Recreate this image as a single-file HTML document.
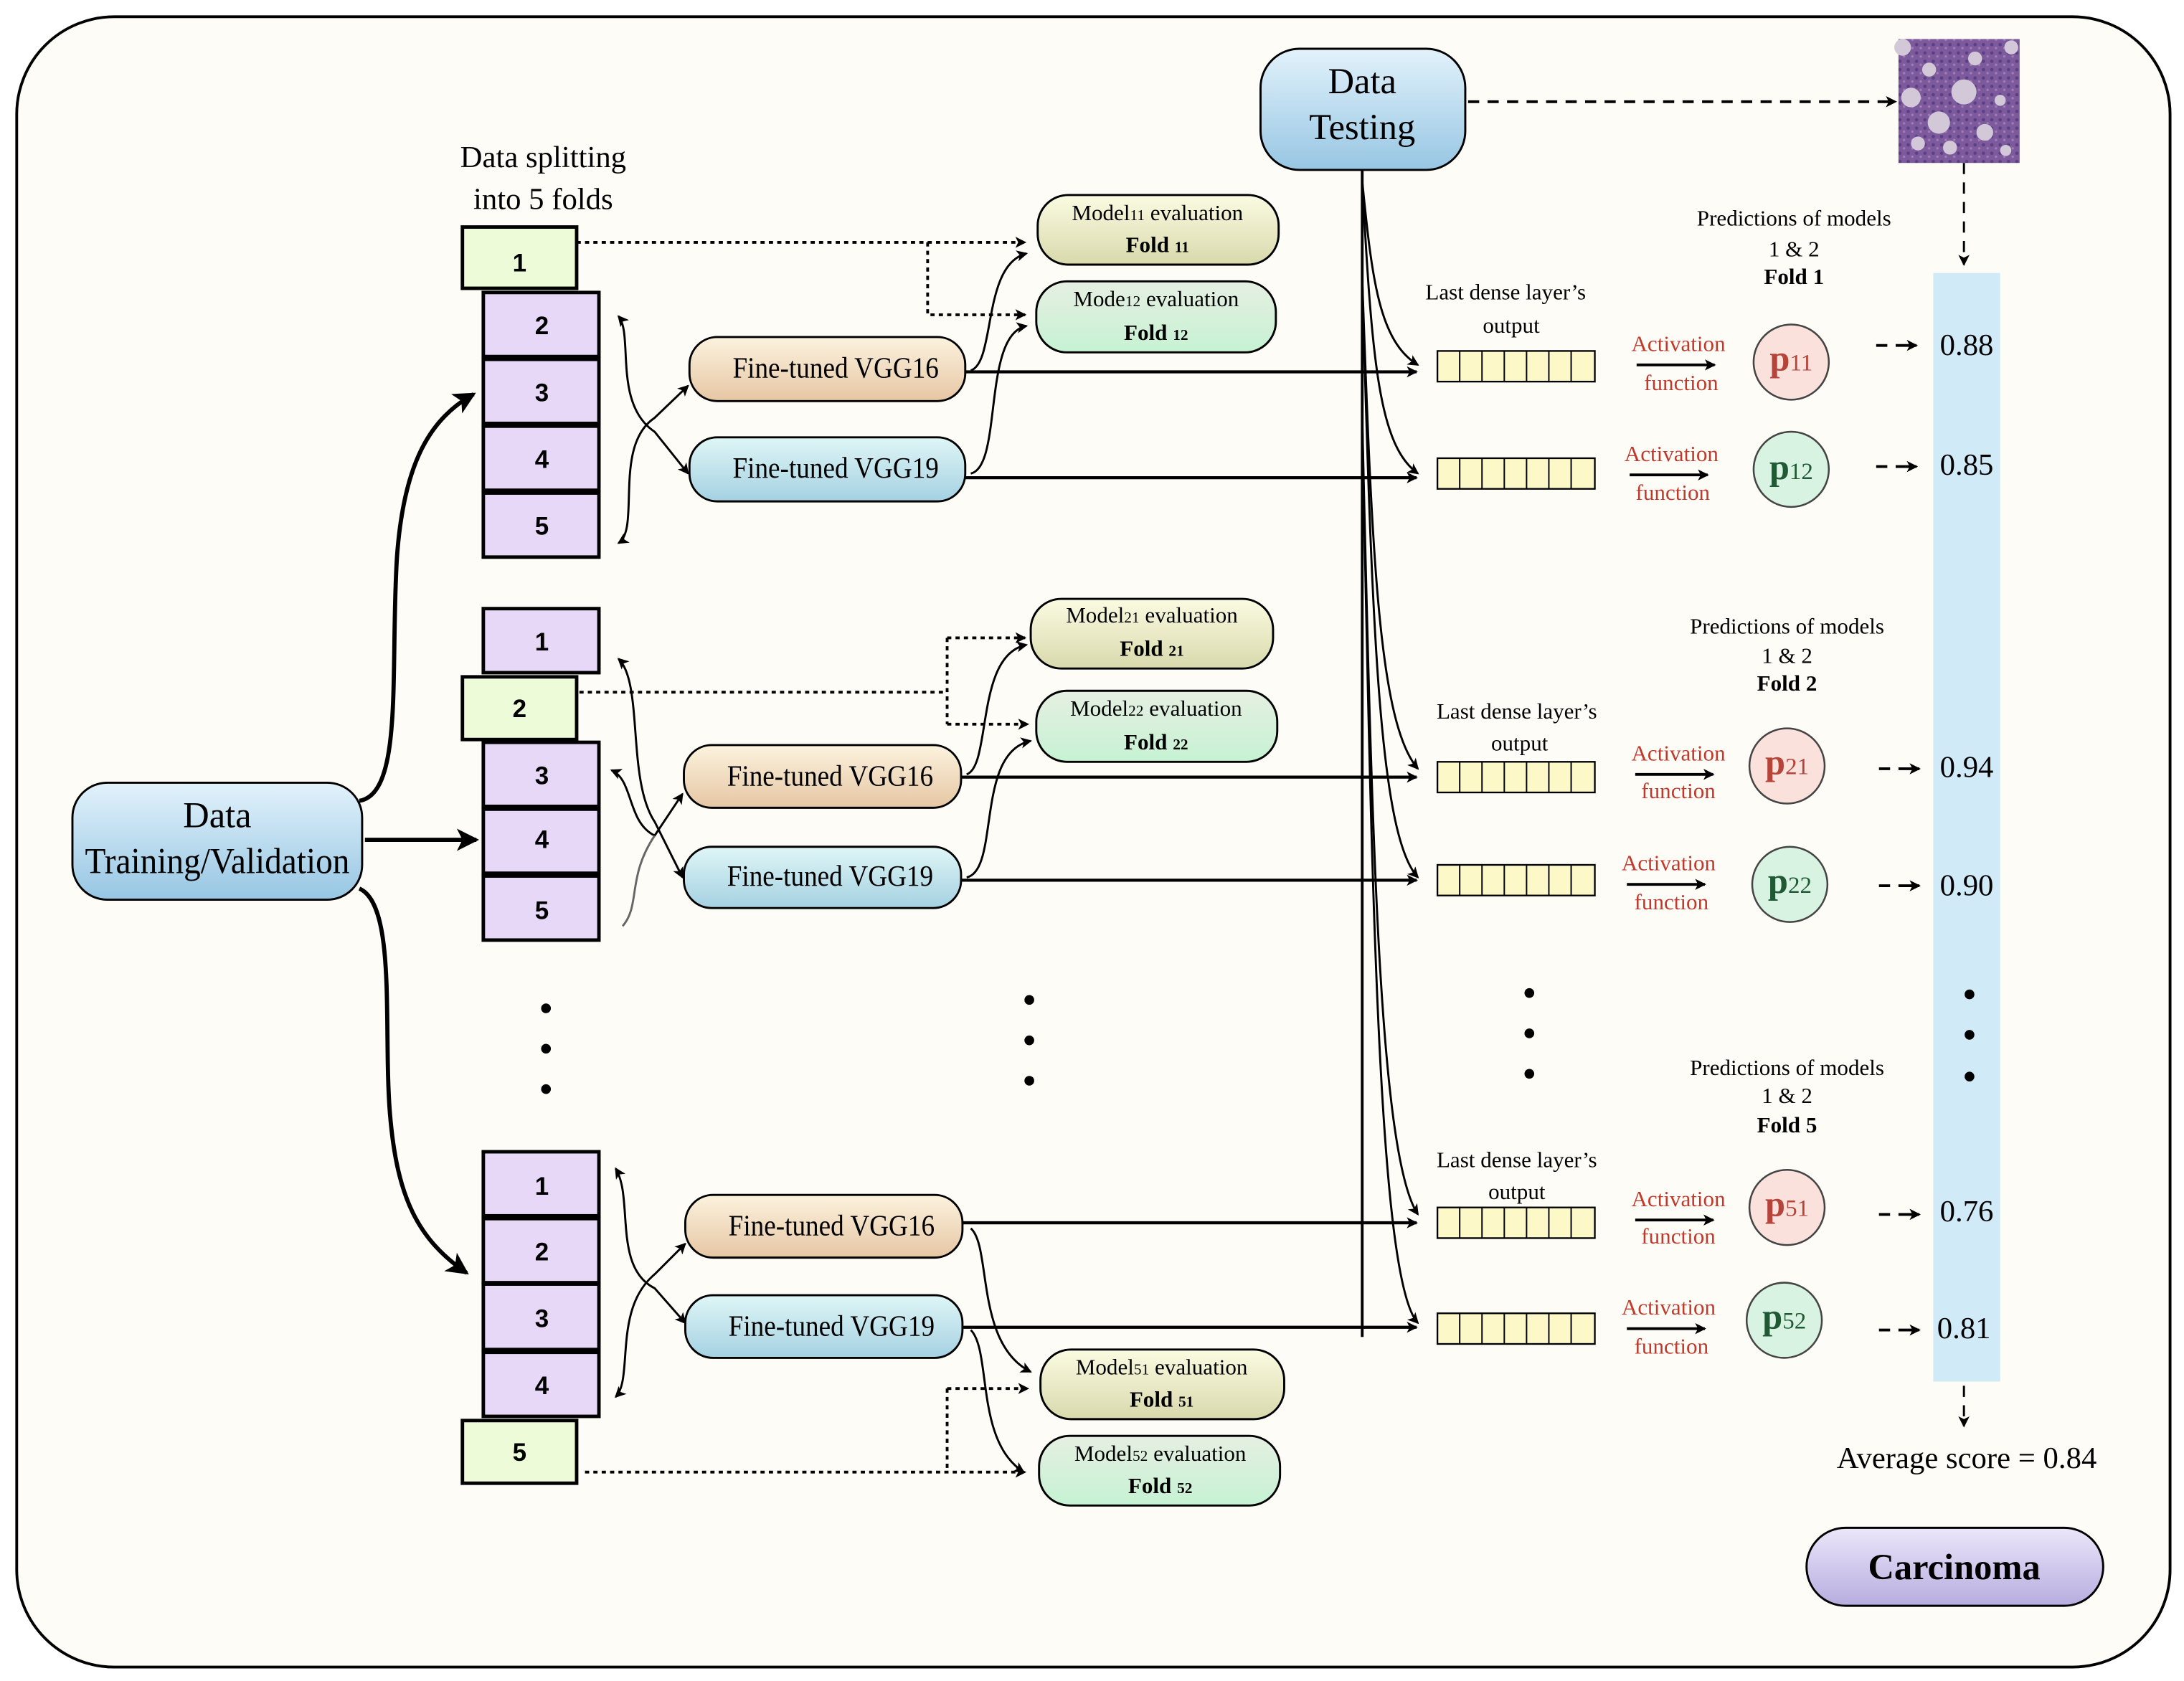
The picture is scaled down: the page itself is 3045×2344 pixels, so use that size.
<!DOCTYPE html>
<html><head><meta charset="utf-8"><style>html,body{margin:0;padding:0;background:#fff}svg{display:block}</style></head><body>
<svg width="3045" height="2344" viewBox="0 0 1568 1207" xmlns="http://www.w3.org/2000/svg" font-family="Liberation Serif, serif">
<defs>
<linearGradient id="gb" x1="0" y1="0" x2="0" y2="1"><stop offset="0" stop-color="#e2f2fb"/><stop offset="1" stop-color="#97c6e3"/></linearGradient>
<linearGradient id="g16" x1="0" y1="0" x2="0" y2="1"><stop offset="0" stop-color="#fcf3de"/><stop offset="1" stop-color="#e6c6a4"/></linearGradient>
<linearGradient id="g19" x1="0" y1="0" x2="0" y2="1"><stop offset="0" stop-color="#dff6f6"/><stop offset="1" stop-color="#a5d1e2"/></linearGradient>
<linearGradient id="gy" x1="0" y1="0" x2="0" y2="1"><stop offset="0" stop-color="#fbfbe2"/><stop offset="1" stop-color="#d9d9ad"/></linearGradient>
<linearGradient id="gg" x1="0" y1="0" x2="0" y2="1"><stop offset="0" stop-color="#e6efe2"/><stop offset="1" stop-color="#c6f2d3"/></linearGradient>
<linearGradient id="gc" x1="0" y1="0" x2="0" y2="1"><stop offset="0" stop-color="#ece6fa"/><stop offset="1" stop-color="#b7addf"/></linearGradient>
<pattern id="tis" width="6" height="6" patternUnits="userSpaceOnUse"><rect width="6" height="6" fill="#7d5a9c"/><circle cx="2" cy="2" r="1.2" fill="#5a3f86"/><circle cx="5" cy="4.5" r="0.9" fill="#a27cb8"/></pattern>
<marker id="a" markerWidth="8" markerHeight="8" refX="7" refY="4" orient="auto" markerUnits="userSpaceOnUse"><path d="M0,0 L8,4 L0,8 L2,4 z" fill="#000"/></marker>
<marker id="A" markerWidth="16" markerHeight="16" refX="14" refY="8" orient="auto" markerUnits="userSpaceOnUse"><path d="M0,0 L16,8 L0,16 L4,8 z" fill="#000"/></marker>
<marker id="s" markerWidth="8" markerHeight="8" refX="1" refY="4" orient="auto" markerUnits="userSpaceOnUse"><path d="M8,0 L0,4 L8,8 L6,4 z" fill="#000"/></marker>
</defs>
<rect width="1568" height="1207" fill="#fff"/>
<rect x="12" y="12" width="1546" height="1185" rx="70" fill="#fdfcf7" stroke="#000" stroke-width="2"/>

<rect x="1388" y="196" width="48" height="796" fill="#d1eaf8"/>

<g font-size="22" text-anchor="middle"><text x="390" y="120">Data splitting</text><text x="390" y="150">into 5 folds</text></g>

<g stroke="#000" stroke-width="2.5" fill="#e8d8f8">
<rect x="347" y="210" width="83" height="46"/><rect x="347" y="258" width="83" height="46"/><rect x="347" y="306" width="83" height="46"/><rect x="347" y="354" width="83" height="46"/>
<rect x="332" y="163" width="82" height="44" fill="#eefbd9"/>
<rect x="347" y="437" width="83" height="46"/><rect x="347" y="533" width="83" height="46"/><rect x="347" y="581" width="83" height="46"/><rect x="347" y="629" width="83" height="46"/>
<rect x="332" y="486" width="82" height="45" fill="#eefbd9"/>
<rect x="347" y="827" width="83" height="46"/><rect x="347" y="875" width="83" height="46"/><rect x="347" y="922" width="83" height="47"/><rect x="347" y="971" width="83" height="46"/>
<rect x="332" y="1020" width="82" height="45" fill="#eefbd9"/>
</g>
<g font-family="Liberation Sans, sans-serif" font-weight="bold" font-size="18" text-anchor="middle">
<text x="373" y="195">1</text><text x="389" y="240">2</text><text x="389" y="288">3</text><text x="389" y="336">4</text><text x="389" y="384">5</text>
<text x="389" y="467">1</text><text x="373" y="515">2</text><text x="389" y="563">3</text><text x="389" y="609">4</text><text x="389" y="660">5</text>
<text x="389" y="858">1</text><text x="389" y="905">2</text><text x="389" y="953">3</text><text x="389" y="1001">4</text><text x="373" y="1049">5</text>
</g>

<g fill="#000"><circle cx="392" cy="724" r="3.5"/><circle cx="392" cy="753" r="3.5"/><circle cx="392" cy="782" r="3.5"/>
<circle cx="739" cy="718" r="3.5"/><circle cx="739" cy="747" r="3.5"/><circle cx="739" cy="776" r="3.5"/>
<circle cx="1098" cy="713" r="3.5"/><circle cx="1098" cy="742" r="3.5"/><circle cx="1098" cy="771" r="3.5"/>
<circle cx="1414" cy="714" r="3.5"/><circle cx="1414" cy="743" r="3.5"/><circle cx="1414" cy="773" r="3.5"/></g>

<g fill="none" stroke="#000" stroke-width="3">
<path d="M258,575 C290,570 280,480 285,400 C290,330 310,300 340,283" marker-end="url(#A)"/>
<path d="M262,603 L342,603" marker-end="url(#A)"/>
<path d="M258,638 C285,650 275,740 280,800 C285,860 300,890 335,914" marker-end="url(#A)"/>
</g>
<rect x="52" y="562" width="208" height="84" rx="25" fill="url(#gb)" stroke="#000" stroke-width="1.5"/>
<g font-size="26" text-anchor="middle"><text x="156" y="594">Data</text><text x="156" y="627" textLength="190" lengthAdjust="spacingAndGlyphs">Training/Validation</text></g>

<g fill="none" stroke="#000" stroke-width="1.5">
<path d="M444,227 C455,240 440,290 470,310 L494,340" marker-start="url(#s)" marker-end="url(#a)"/>
<path d="M444,390 C460,380 440,320 470,300 L494,277" marker-start="url(#s)" marker-end="url(#a)"/>
<path d="M444,473 C462,490 450,560 470,590 L490,630" marker-start="url(#s)" marker-end="url(#a)"/>
<path d="M439,553 C455,560 450,590 470,600 L490,570" marker-start="url(#s)" marker-end="url(#a)"/>
<path d="M447,665 C460,650 450,630 470,600" stroke="#666"/>
<path d="M442,839 C455,860 440,910 470,925 L492,950" marker-start="url(#s)" marker-end="url(#a)"/>
<path d="M442,1003 C455,990 440,940 470,915 L492,893" marker-start="url(#s)" marker-end="url(#a)"/>
</g>

<g fill="none" stroke="#000" stroke-width="2" stroke-dasharray="3,3">
<path d="M414,174 L736,174" marker-end="url(#a)"/><path d="M666,174 L666,226 L736,226" marker-end="url(#a)"/>
<path d="M416,497 L680,497"/><path d="M680,458 L680,520"/><path d="M680,458 L736,458" marker-end="url(#a)"/><path d="M680,520 L738,520" marker-end="url(#a)"/>
<path d="M420,1057 L736,1057" marker-end="url(#a)"/><path d="M680,997 L680,1057"/><path d="M680,997 L738,997" marker-end="url(#a)"/>
</g>

<g fill="none" stroke="#000" stroke-width="1.5">
<path d="M697,266 C715,260 705,190 737,182" marker-end="url(#a)"/>
<path d="M697,340 C720,335 705,240 737,234" marker-end="url(#a)"/>
<path d="M694,556 C712,550 700,470 737,463" marker-end="url(#a)"/>
<path d="M694,630 C718,625 700,540 740,532" marker-end="url(#a)"/>
<path d="M697,882 C712,895 700,965 740,985" marker-end="url(#a)"/>
<path d="M697,955 C712,970 700,1035 735,1057" marker-end="url(#a)"/>
</g>

<g fill="none" stroke="#000" stroke-width="2.2">
<path d="M693,267 L1017,267" marker-end="url(#a)"/><path d="M693,343 L1017,343" marker-end="url(#a)"/>
<path d="M690,558 L1017,558" marker-end="url(#a)"/><path d="M690,632 L1017,632" marker-end="url(#a)"/>
<path d="M691,878 L1017,878" marker-end="url(#a)"/><path d="M691,953 L1017,953" marker-end="url(#a)"/>
</g>

<g fill="none" stroke="#000" stroke-width="1.5">
<path d="M978,122 L978,960" stroke-width="2"/>
<path d="M978,130 C985,200 990,245 1018,262" marker-end="url(#a)"/>
<path d="M978,130 C985,260 990,320 1018,340" marker-end="url(#a)"/>
<path d="M978,200 C985,400 990,520 1018,552" marker-end="url(#a)"/>
<path d="M978,200 C985,450 990,600 1018,630" marker-end="url(#a)"/>
<path d="M978,300 C985,600 990,830 1018,872" marker-end="url(#a)"/>
<path d="M978,300 C985,650 990,920 1018,950" marker-end="url(#a)"/>
</g>

<g stroke="#000" stroke-width="1.5">
<rect x="495" y="242" width="198" height="46" rx="20" fill="url(#g16)"/>
<rect x="495" y="314" width="198" height="46" rx="20" fill="url(#g19)"/>
<rect x="491" y="535" width="199" height="45" rx="20" fill="url(#g16)"/>
<rect x="491" y="608" width="199" height="44" rx="20" fill="url(#g19)"/>
<rect x="492" y="858" width="199" height="45" rx="20" fill="url(#g16)"/>
<rect x="492" y="930" width="199" height="45" rx="20" fill="url(#g19)"/>
</g>
<g font-size="21" text-anchor="middle">
<text x="600" y="271" textLength="148" lengthAdjust="spacingAndGlyphs">Fine-tuned VGG16</text><text x="600" y="343" textLength="148" lengthAdjust="spacingAndGlyphs">Fine-tuned VGG19</text>
<text x="596" y="564" textLength="148" lengthAdjust="spacingAndGlyphs">Fine-tuned VGG16</text><text x="596" y="636" textLength="148" lengthAdjust="spacingAndGlyphs">Fine-tuned VGG19</text>
<text x="597" y="887" textLength="148" lengthAdjust="spacingAndGlyphs">Fine-tuned VGG16</text><text x="597" y="959" textLength="148" lengthAdjust="spacingAndGlyphs">Fine-tuned VGG19</text>
</g>

<g stroke="#000" stroke-width="1.5">
<rect x="745" y="140" width="173" height="50" rx="22" fill="url(#gy)"/>
<rect x="744" y="202" width="172" height="51" rx="22" fill="url(#gg)"/>
<rect x="740" y="430" width="174" height="50" rx="22" fill="url(#gy)"/>
<rect x="744" y="496" width="173" height="51" rx="22" fill="url(#gg)"/>
<rect x="747" y="969" width="175" height="50" rx="22" fill="url(#gy)"/>
<rect x="746" y="1031" width="173" height="50" rx="22" fill="url(#gg)"/>
</g>
<g font-size="16" text-anchor="middle">
<text x="831" y="158">Model<tspan font-size="11">11</tspan> evaluation</text><text x="831" y="181" font-weight="bold">Fold <tspan font-size="11">11</tspan></text>
<text x="830" y="220">Mode<tspan font-size="11">12</tspan> evaluation</text><text x="830" y="244" font-weight="bold">Fold <tspan font-size="11">12</tspan></text>
<text x="827" y="447">Model<tspan font-size="11">21</tspan> evaluation</text><text x="827" y="471" font-weight="bold">Fold <tspan font-size="11">21</tspan></text>
<text x="830" y="514">Model<tspan font-size="11">22</tspan> evaluation</text><text x="830" y="538" font-weight="bold">Fold <tspan font-size="11">22</tspan></text>
<text x="834" y="987">Model<tspan font-size="11">51</tspan> evaluation</text><text x="834" y="1010" font-weight="bold">Fold <tspan font-size="11">51</tspan></text>
<text x="833" y="1049">Model<tspan font-size="11">52</tspan> evaluation</text><text x="833" y="1072" font-weight="bold">Fold <tspan font-size="11">52</tspan></text>
</g>

<rect x="905" y="35" width="147" height="87" rx="28" fill="url(#gb)" stroke="#000" stroke-width="1.5"/>
<g font-size="26" text-anchor="middle"><text x="978" y="67">Data</text><text x="978" y="100">Testing</text></g>

<rect x="1363" y="28" width="87" height="89" fill="url(#tis)"/>
<g fill="#d2c8d8"><circle cx="1366" cy="34" r="6"/><circle cx="1385" cy="50" r="5"/><circle cx="1372" cy="70" r="7"/><circle cx="1392" cy="88" r="8"/><circle cx="1410" cy="66" r="9"/><circle cx="1418" cy="42" r="5"/><circle cx="1377" cy="103" r="5"/><circle cx="1400" cy="106" r="5"/><circle cx="1425" cy="95" r="6"/><circle cx="1436" cy="72" r="4"/><circle cx="1444" cy="34" r="5"/><circle cx="1440" cy="108" r="4"/></g>
<g fill="none" stroke="#000" stroke-width="2" stroke-dasharray="8,6">
<path d="M1054,73 L1361,73" marker-end="url(#a)"/>
<path d="M1410,117 L1410,190" stroke-width="1.5" marker-end="url(#a)"/>
<path d="M1410,995 L1410,1024" stroke-width="1.5" marker-end="url(#a)"/>
</g>

<g stroke="#000" stroke-width="1.2" fill="#fdf8c8">
<rect x="1032" y="252" width="113" height="22"/><rect x="1032" y="329" width="113" height="22"/>
<rect x="1032" y="547" width="113" height="22"/><rect x="1032" y="621" width="113" height="22"/>
<rect x="1032" y="867" width="113" height="22"/><rect x="1032" y="943" width="113" height="22"/>
</g>
<g stroke="#000" stroke-width="1">
<path d="M1048,252v22M1064,252v22M1080,252v22M1096,252v22M1112,252v22M1128,252v22"/>
<path d="M1048,329v22M1064,329v22M1080,329v22M1096,329v22M1112,329v22M1128,329v22"/>
<path d="M1048,547v22M1064,547v22M1080,547v22M1096,547v22M1112,547v22M1128,547v22"/>
<path d="M1048,621v22M1064,621v22M1080,621v22M1096,621v22M1112,621v22M1128,621v22"/>
<path d="M1048,867v22M1064,867v22M1080,867v22M1096,867v22M1112,867v22M1128,867v22"/>
<path d="M1048,943v22M1064,943v22M1080,943v22M1096,943v22M1112,943v22M1128,943v22"/>
</g>
<g font-size="16" text-anchor="middle">
<text x="1081" y="215">Last dense layer’s</text><text x="1085" y="239">output</text>
<text x="1089" y="516">Last dense layer’s</text><text x="1091" y="539">output</text>
<text x="1089" y="838">Last dense layer’s</text><text x="1089" y="861">output</text>
<text x="1288" y="162">Predictions of models</text><text x="1288" y="184">1 &amp; 2</text><text x="1288" y="204" font-weight="bold">Fold 1</text>
<text x="1283" y="455">Predictions of models</text><text x="1283" y="476">1 &amp; 2</text><text x="1283" y="496" font-weight="bold">Fold 2</text>
<text x="1283" y="772">Predictions of models</text><text x="1283" y="792">1 &amp; 2</text><text x="1283" y="813" font-weight="bold">Fold 5</text>
</g>

<g font-size="16" text-anchor="middle" fill="#c0392b">
<text x="1205" y="252">Activation</text><text x="1207" y="280">function</text>
<text x="1200" y="331">Activation</text><text x="1201" y="359">function</text>
<text x="1205" y="546">Activation</text><text x="1205" y="573">function</text>
<text x="1198" y="625">Activation</text><text x="1200" y="653">function</text>
<text x="1205" y="866">Activation</text><text x="1205" y="893">function</text>
<text x="1198" y="944">Activation</text><text x="1200" y="972">function</text>
</g>
<g stroke="#000" stroke-width="2" fill="none">
<path d="M1175,262 L1231,262" marker-end="url(#a)"/><path d="M1170,341 L1226,341" marker-end="url(#a)"/>
<path d="M1174,556 L1230,556" marker-end="url(#a)"/><path d="M1168,635 L1224,635" marker-end="url(#a)"/>
<path d="M1174,876 L1230,876" marker-end="url(#a)"/><path d="M1168,954 L1224,954" marker-end="url(#a)"/>
</g>

<g stroke="#444" stroke-width="1.3">
<circle cx="1286" cy="260" r="27" fill="#fbe1dc"/><circle cx="1286" cy="337" r="27" fill="#d9f3e3"/>
<circle cx="1283" cy="550" r="27" fill="#fbe1dc"/><circle cx="1285" cy="635" r="27" fill="#d9f3e3"/>
<circle cx="1283" cy="867" r="27" fill="#fbe1dc"/><circle cx="1281" cy="948" r="27" fill="#d9f3e3"/>
</g>
<g font-size="26" text-anchor="middle" font-weight="bold">
<text x="1286" y="266" fill="#b5443a">p<tspan font-size="17" font-weight="normal">11</tspan></text>
<text x="1286" y="344" fill="#1f5a35">p<tspan font-size="17" font-weight="normal">12</tspan></text>
<text x="1283" y="556" fill="#b5443a">p<tspan font-size="17" font-weight="normal">21</tspan></text>
<text x="1285" y="641" fill="#1f5a35">p<tspan font-size="17" font-weight="normal">22</tspan></text>
<text x="1283" y="873" fill="#b5443a">p<tspan font-size="17" font-weight="normal">51</tspan></text>
<text x="1281" y="954" fill="#1f5a35">p<tspan font-size="17" font-weight="normal">52</tspan></text>
</g>

<g stroke="#000" stroke-width="2" fill="none">
<path d="M1347,248h8M1361,248h15" marker-end="url(#a)"/>
<path d="M1347,335h8M1361,335h15" marker-end="url(#a)"/>
<path d="M1349,552h8M1363,552h15" marker-end="url(#a)"/>
<path d="M1349,636h8M1363,636h15" marker-end="url(#a)"/>
<path d="M1349,872h8M1363,872h15" marker-end="url(#a)"/>
<path d="M1349,955h8M1363,955h15" marker-end="url(#a)"/>
</g>
<g font-size="22" text-anchor="middle">
<text x="1412" y="255">0.88</text><text x="1412" y="341">0.85</text><text x="1412" y="558">0.94</text>
<text x="1412" y="643">0.90</text><text x="1412" y="877">0.76</text><text x="1410" y="961">0.81</text>
<text x="1412" y="1054">Average score = 0.84</text>
</g>

<rect x="1297" y="1097" width="213" height="56" rx="28" fill="url(#gc)" stroke="#000" stroke-width="1.5"/>
<text x="1403" y="1134" font-size="26" font-weight="bold" text-anchor="middle">Carcinoma</text>
</svg>
</body></html>
